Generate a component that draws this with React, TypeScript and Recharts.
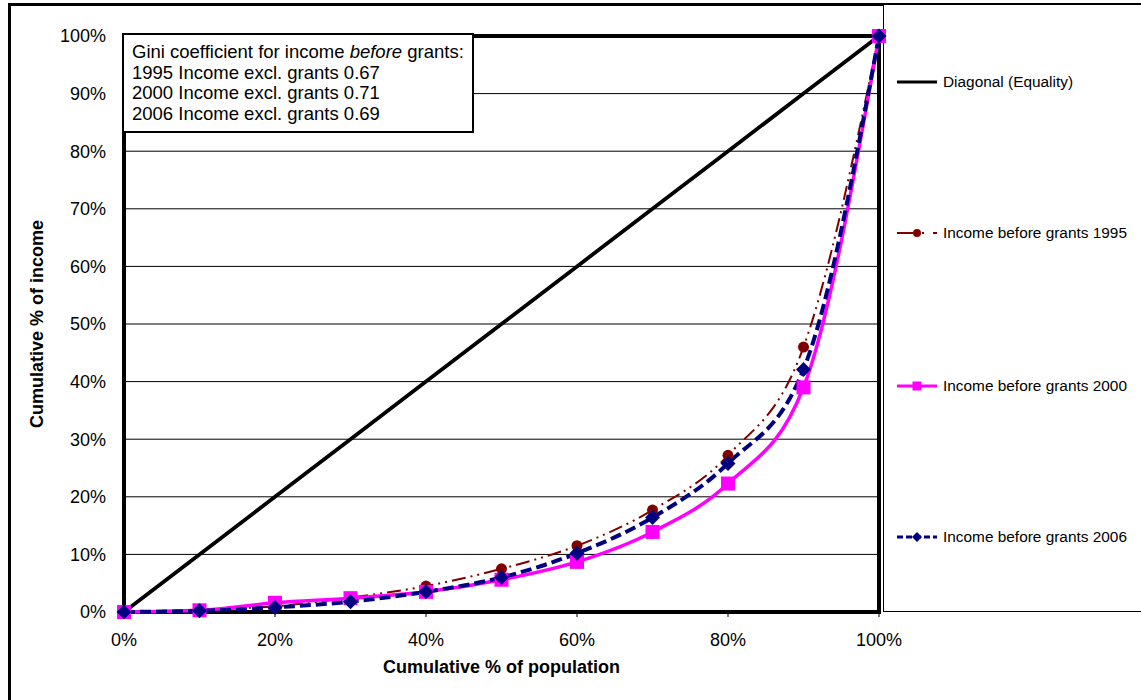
import { LineChart, Line, XAxis, YAxis, CartesianGrid, Label } from "recharts";

const population = [0, 10, 20, 30, 40, 50, 60, 70, 80, 90, 100];
const diagonal = [0, 10, 20, 30, 40, 50, 60, 70, 80, 90, 100];
const income1995 = [0, 0.4, 1.0, 2.5, 4.5, 7.5, 11.5, 17.7, 27.2, 46.0, 100];
const income2000 = [0, 0.3, 1.6, 2.4, 3.5, 5.6, 8.7, 13.9, 22.3, 39.0, 100];
const income2006 = [0, 0.2, 0.8, 1.8, 3.5, 6.0, 10.2, 16.4, 25.8, 42.1, 100];

const xTicks = [0, 20, 40, 60, 80, 100];
const yTicks = [0, 10, 20, 30, 40, 50, 60, 70, 80, 90, 100];

const giniLines = [
  "1995 Income excl. grants 0.67",
  "2000 Income excl. grants 0.71",
  "2006 Income excl. grants 0.69",
];

const legendNames = [
  "Diagonal (Equality)",
  "Income before grants 1995",
  "Income before grants 2000",
  "Income before grants 2006",
];

const data = population.map((p, i) => ({
  pop: p,
  diag: diagonal[i],
  y1995: income1995[i],
  y2000: income2000[i],
  y2006: income2006[i],
}));

const RED = "#800000";
const PINK = "#FF00FF";
const NAVY = "#000080";

function circleDot(props: any) {
  const { cx, cy, index } = props;
  return <circle key={`c-${index}`} cx={cx} cy={cy} r={5.5} fill={RED} />;
}

function squareDot(props: any) {
  const { cx, cy, index } = props;
  return <rect key={`s-${index}`} x={cx - 7} y={cy - 7} width={14} height={14} fill={PINK} />;
}

function diamondDot(props: any) {
  const { cx, cy, index } = props;
  const s = 7.5;
  return (
    <polygon
      key={`d-${index}`}
      points={`${cx},${cy - s} ${cx + s},${cy} ${cx},${cy + s} ${cx - s},${cy}`}
      fill={NAVY}
    />
  );
}

// little swatches for the legend on the right
function Swatch({ idx }: { idx: number }) {
  return (
    <svg width={42} height={14} style={{ display: "block" }}>
      {idx === 0 && <line x1={0} y1={7} x2={40} y2={7} stroke="#000" strokeWidth={3} />}
      {idx === 1 && (
        <>
          <line x1={0} y1={7} x2={40} y2={7} stroke={RED} strokeWidth={2} strokeDasharray="16 9 2 9" />
          <circle cx={20} cy={7} r={4} fill={RED} />
        </>
      )}
      {idx === 2 && (
        <>
          <line x1={0} y1={7} x2={40} y2={7} stroke={PINK} strokeWidth={3} />
          <rect x={15.5} y={2.5} width={9} height={9} fill={PINK} />
        </>
      )}
      {idx === 3 && (
        <>
          <line x1={0} y1={7} x2={40} y2={7} stroke={NAVY} strokeWidth={3} strokeDasharray="6 3" />
          <polygon points="20,2 25,7 20,12 15,7" fill={NAVY} />
        </>
      )}
    </svg>
  );
}

const legendY = [82, 233, 386, 537];

export default function App() {
  return (
    <div
      style={{
        position: "fixed",
        left: 0,
        top: 0,
        width: 1141,
        height: 700,
        overflow: "hidden",
        background: "#fff",
        fontFamily: "'Liberation Sans', Arial, sans-serif",
        color: "#000",
      }}
    >
      {/* outer chart frame */}
      <div
        style={{
          position: "absolute",
          left: 8,
          top: 3,
          width: 1300,
          height: 900,
          border: "3px solid #000",
        }}
      />
      {/* legend box */}
      <div
        style={{
          position: "absolute",
          left: 883,
          top: 4,
          width: 400,
          height: 608,
          border: "1px solid #000",
          boxSizing: "border-box",
          background: "#fff",
        }}
      />
      {/* plot frame */}
      <div
        style={{
          position: "absolute",
          left: 122,
          top: 34,
          width: 759,
          height: 580,
          border: "4px solid #000",
          boxSizing: "border-box",
        }}
      />

      <div style={{ position: "absolute", left: 0, top: 0 }}>
        <LineChart
          width={1141}
          height={700}
          data={data}
          margin={{ top: 36, right: 262, bottom: 48, left: 24 }}
        >
          <CartesianGrid vertical={false} stroke="#000" strokeWidth={1} horizontalValues={yTicks} />
          <XAxis
            dataKey="pop"
            type="number"
            domain={[0, 100]}
            ticks={xTicks}
            tickFormatter={(v) => `${v}%`}
            axisLine={false}
            tickLine={{ stroke: "#000", strokeWidth: 1 }}
            tickSize={5}
            tickMargin={16}
            height={40}
            tick={{ fill: "#000", fontSize: 18 }}
          >
            <Label
              value="Cumulative % of population"
              position="bottom"
              offset={8}
              style={{ fontSize: 18, fontWeight: "bold", fill: "#000" }}
            />
          </XAxis>
          <YAxis
            type="number"
            domain={[0, 100]}
            ticks={yTicks}
            tickFormatter={(v) => `${v}%`}
            axisLine={false}
            tickLine={false}
            tickSize={6}
            tickMargin={12}
            width={100}
            tick={{ fill: "#000", fontSize: 18 }}
          >
            <Label
              value="Cumulative % of income"
              angle={-90}
              position="insideLeft"
              offset={13}
              style={{ fontSize: 18, fontWeight: "bold", fill: "#000", textAnchor: "middle" }}
            />
          </YAxis>
          <Line
            dataKey="diag"
            stroke="#000"
            strokeWidth={3.8}
            dot={false}
            activeDot={false}
            isAnimationActive={false}
          />
          <Line
            type="monotone"
            dataKey="y1995"
            stroke={RED}
            strokeWidth={2}
            strokeDasharray="14 5 2 5 2 5"
            dot={circleDot}
            activeDot={false}
            isAnimationActive={false}
          />
          <Line
            type="monotone"
            dataKey="y2000"
            stroke={PINK}
            strokeWidth={3.5}
            dot={squareDot}
            activeDot={false}
            isAnimationActive={false}
          />
          <Line
            type="monotone"
            dataKey="y2006"
            stroke={NAVY}
            strokeWidth={4}
            strokeDasharray="11 5"
            dot={diamondDot}
            activeDot={false}
            isAnimationActive={false}
          />
        </LineChart>
      </div>

      {/* Gini annotation box */}
      <div
        style={{
          position: "absolute",
          left: 122,
          top: 33,
          width: 352,
          height: 100,
          boxSizing: "border-box",
          border: "2px solid #000",
          background: "#fff",
          padding: "7px 0 0 8px",
          fontSize: 18.5,
          lineHeight: "20.5px",
          whiteSpace: "nowrap",
        }}
      >
        <div>
          Gini coefficient for income <i>before</i> grants:
        </div>
        {giniLines.map((t) => (
          <div key={t}>{t}</div>
        ))}
      </div>

      {/* legend entries */}
      {legendNames.map((name, i) => (
        <div
          key={name}
          style={{
            position: "absolute",
            left: 897,
            top: legendY[i] - 9,
            height: 18,
            display: "flex",
            alignItems: "center",
            fontSize: 15.4,
            whiteSpace: "nowrap",
          }}
        >
          <Swatch idx={i} />
          <span style={{ marginLeft: 4 }}>{name}</span>
        </div>
      ))}
    </div>
  );
}
